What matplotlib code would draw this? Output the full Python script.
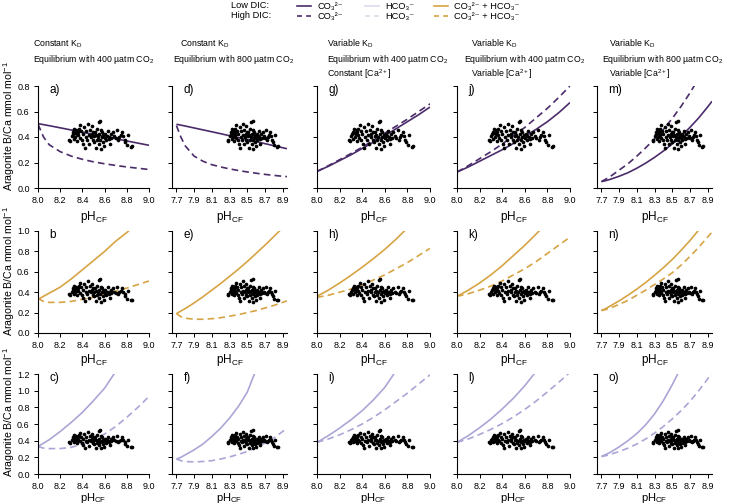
import numpy as np
import matplotlib.pyplot as plt
from matplotlib.lines import Line2D

plt.rcParams['font.family'] = ['Liberation Sans', 'DejaVu Sans']
plt.rcParams['mathtext.fontset'] = 'custom'
plt.rcParams['mathtext.rm'] = 'Liberation Sans'
plt.rcParams['mathtext.it'] = 'Liberation Sans:italic'
plt.rcParams['mathtext.bf'] = 'Liberation Sans:bold'

# coral calcifying fluid data (same in every panel)
ph_cf = [8.280, 8.288, 8.304, 8.312, 8.318, 8.323, 8.326, 8.331, 8.336, 8.342,
         8.347, 8.353, 8.358, 8.363, 8.366, 8.374, 8.379, 8.385, 8.393, 8.401,
         8.406, 8.414, 8.420, 8.428, 8.433, 8.441, 8.449, 8.455, 8.460, 8.466,
         8.474, 8.482, 8.487, 8.492, 8.498, 8.503, 8.509, 8.514, 8.519, 8.525,
         8.530, 8.535, 8.541, 8.546, 8.549, 8.554, 8.560, 8.562, 8.568, 8.570,
         8.573, 8.578, 8.584, 8.589, 8.595, 8.600, 8.608, 8.616, 8.622, 8.630,
         8.638, 8.643, 8.648, 8.654, 8.662, 8.675, 8.689, 8.702, 8.716, 8.724,
         8.734, 8.745, 8.761, 8.769, 8.783, 8.788, 8.804, 8.815, 8.837, 8.850]
bca = [0.379, 0.371, 0.405, 0.421, 0.442, 0.384, 0.465, 0.431, 0.400, 0.452,
       0.426, 0.371, 0.439, 0.413, 0.465, 0.395, 0.492, 0.447, 0.374, 0.426,
       0.348, 0.478, 0.316, 0.400, 0.447, 0.379, 0.505, 0.413, 0.342, 0.458,
       0.400, 0.421, 0.484, 0.374, 0.439, 0.361, 0.405, 0.439, 0.316, 0.413,
       0.374, 0.465, 0.400, 0.515, 0.348, 0.421, 0.525, 0.379, 0.452, 0.308,
       0.400, 0.439, 0.361, 0.413, 0.327, 0.395, 0.426, 0.374, 0.405, 0.447,
       0.400, 0.387, 0.348, 0.421, 0.395, 0.439, 0.405, 0.395, 0.452, 0.379,
       0.400, 0.413, 0.439, 0.405, 0.379, 0.361, 0.337, 0.413, 0.322, 0.327]

# model pH grids
ph_400 = [8.0, 8.05, 8.1, 8.2, 8.3, 8.4, 8.5, 8.6, 8.7, 8.8, 8.9, 9.0]
ph_800 = [7.7, 7.75, 7.8, 7.9, 8.0, 8.1, 8.2, 8.3, 8.4, 8.5, 8.6, 8.7, 8.8, 8.9, 8.95]

# CO3 2- models (low DIC solid, high DIC dashed)
a_low = [0.505, 0.497, 0.489, 0.472, 0.455, 0.438, 0.420, 0.403, 0.386, 0.369, 0.352, 0.335]
a_high = [0.50, 0.40, 0.34, 0.285, 0.25, 0.225, 0.205, 0.19, 0.177, 0.165, 0.155, 0.145]
d_low = [0.500, 0.493, 0.486, 0.471, 0.456, 0.441, 0.426, 0.410, 0.395, 0.380, 0.364, 0.348, 0.332, 0.316, 0.308]
d_high = [0.49, 0.40, 0.33, 0.25, 0.21, 0.183, 0.165, 0.15, 0.137, 0.126, 0.116, 0.107, 0.099, 0.092, 0.089]
g_low = [0.13, 0.15, 0.17, 0.215, 0.26, 0.31, 0.36, 0.41, 0.465, 0.52, 0.575, 0.635]
g_high = [0.13, 0.152, 0.175, 0.222, 0.27, 0.32, 0.375, 0.43, 0.485, 0.54, 0.60, 0.66]
j_low = [0.125, 0.145, 0.165, 0.21, 0.255, 0.30, 0.35, 0.405, 0.46, 0.52, 0.59, 0.67]
j_high = [0.125, 0.15, 0.175, 0.23, 0.285, 0.345, 0.41, 0.475, 0.55, 0.625, 0.71, 0.80]
m_low = [0.05, 0.058, 0.068, 0.092, 0.12, 0.155, 0.195, 0.24, 0.29, 0.345, 0.405, 0.475, 0.55, 0.635, 0.68]
m_high = [0.05, 0.07, 0.09, 0.14, 0.19, 0.25, 0.315, 0.385, 0.46, 0.545, 0.64, 0.745, 0.86]

# CO3 2- + HCO3- models
b_low = [0.33, 0.36, 0.39, 0.45, 0.53, 0.62, 0.71, 0.80, 0.90, 0.985, 1.08]
b_high = [0.34, 0.31, 0.30, 0.30, 0.31, 0.33, 0.35, 0.38, 0.41, 0.44, 0.475, 0.51]
e_low = [0.19, 0.215, 0.24, 0.295, 0.355, 0.42, 0.485, 0.555, 0.625, 0.70, 0.78, 0.86, 0.945, 1.03]
e_high = [0.19, 0.16, 0.145, 0.135, 0.135, 0.14, 0.15, 0.165, 0.18, 0.20, 0.22, 0.245, 0.27, 0.30, 0.315]
h_low = [0.36, 0.39, 0.42, 0.49, 0.565, 0.645, 0.73, 0.82, 0.92, 1.03]
h_high = [0.35, 0.36, 0.37, 0.40, 0.43, 0.47, 0.52, 0.57, 0.63, 0.69, 0.76, 0.83]
k_low = [0.36, 0.39, 0.42, 0.49, 0.57, 0.66, 0.76, 0.86, 0.97, 1.08]
k_high = [0.36, 0.372, 0.385, 0.42, 0.46, 0.51, 0.57, 0.63, 0.70, 0.78, 0.86, 0.94]
n_low = [0.22, 0.24, 0.265, 0.315, 0.37, 0.43, 0.495, 0.565, 0.64, 0.72, 0.81, 0.905, 1.01]
n_high = [0.22, 0.23, 0.245, 0.28, 0.32, 0.37, 0.42, 0.475, 0.53, 0.59, 0.665, 0.75, 0.84, 0.94, 0.99]

# HCO3- models
c_low = [0.33, 0.37, 0.41, 0.51, 0.62, 0.74, 0.88, 1.03, 1.23]
c_high = [0.33, 0.31, 0.305, 0.305, 0.32, 0.36, 0.41, 0.48, 0.57, 0.68, 0.80, 0.93]
f_low = [0.18, 0.20, 0.23, 0.29, 0.36, 0.45, 0.55, 0.67, 0.81, 0.98, 1.25]
f_high = [0.18, 0.16, 0.15, 0.145, 0.15, 0.16, 0.18, 0.205, 0.235, 0.27, 0.32, 0.37, 0.43, 0.51, 0.55]
i_low = [0.38, 0.42, 0.46, 0.55, 0.65, 0.76, 0.89, 1.04, 1.24]
i_high = [0.38, 0.40, 0.42, 0.47, 0.53, 0.60, 0.68, 0.77, 0.87, 0.97, 1.08, 1.19]
l_low = [0.38, 0.42, 0.46, 0.555, 0.66, 0.78, 0.91, 1.06, 1.23]
l_high = [0.38, 0.40, 0.42, 0.475, 0.535, 0.605, 0.685, 0.775, 0.875, 0.985, 1.10, 1.22]
o_low = [0.21, 0.235, 0.26, 0.325, 0.40, 0.485, 0.59, 0.72, 0.88, 1.07, 1.28]
o_high = [0.21, 0.22, 0.235, 0.27, 0.31, 0.36, 0.42, 0.49, 0.57, 0.66, 0.76, 0.87, 1.0, 1.14, 1.21]

col_heads = [
    ["Constant K$_\\mathrm{D}$", "Equilibrium with 400 \u00b5atm CO$_2$"],
    ["Constant K$_\\mathrm{D}$", "Equilibrium with 800 \u00b5atm CO$_2$"],
    ["Variable K$_\\mathrm{D}$", "Equilibrium with 400 \u00b5atm CO$_2$", "Constant [Ca$^{2+}$]"],
    ["Variable K$_\\mathrm{D}$", "Equilibrium with 400 \u00b5atm CO$_2$", "Variable [Ca$^{2+}$]"],
    ["Variable K$_\\mathrm{D}$", "Equilibrium with 800 \u00b5atm CO$_2$", "Variable [Ca$^{2+}$]"],
]

purple = '#4a2c6a'
gold = '#d6a444'
lav = '#aaa6d6'

W, H = 744, 504
fig = plt.figure(figsize=(W / 100, H / 100), dpi=100)

def fx(x):
    return x / W

def fy(y):
    return 1 - y / H

col_left = [38, 172, 317, 457, 597]
col_w = [111, 115, 113, 113, 115]
row_top = [86, 231, 374]
row_h = [102, 102, 100]
row_pad = [2.5, 1.5, 0]
row_xfs = [8.5, 8.5, 8]
row_ymax = [0.8, 1.0, 1.2]
row_color = [purple, gold, lav]

low_rows = [[a_low, d_low, g_low, j_low, m_low],
            [b_low, e_low, h_low, k_low, n_low],
            [c_low, f_low, i_low, l_low, o_low]]
high_rows = [[a_high, d_high, g_high, j_high, m_high],
             [b_high, e_high, h_high, k_high, n_high],
             [c_high, f_high, i_high, l_high, o_high]]
labels = [["a)", "d)", "g)", "j)", "m)"],
          ["b", "e)", "h)", "k)", "n)"],
          ["c)", "f)", "i)", "l)", "o)"]]

for r in range(3):
    for c in range(5):
        ax = fig.add_axes([fx(col_left[c]), fy(row_top[r] + row_h[r]),
                           fx(col_w[c]), row_h[r] / H])
        wide = c in (1, 4)
        ph = ph_800 if wide else ph_400
        low = low_rows[r][c]
        high = high_rows[r][c]
        ax.plot(ph[:len(low)], low, color=row_color[r], lw=1.2, solid_capstyle='butt')
        ax.plot(ph[:len(high)], high, color=row_color[r], lw=1.2, dashes=(4, 2.5))
        ax.scatter(ph_cf, bca, s=7, color='black', linewidths=0, zorder=3)
        if wide:
            ax.set_xlim(7.65, 8.95)
            ax.set_xticks([7.7, 7.9, 8.1, 8.3, 8.5, 8.7, 8.9])
        else:
            ax.set_xlim(8.0, 9.0)
            ax.set_xticks([8.0, 8.2, 8.4, 8.6, 8.8, 9.0])
        ax.set_ylim(0, row_ymax[r])
        ax.set_yticks(np.arange(0, row_ymax[r] + 0.01, 0.2))
        ax.xaxis.set_major_formatter(plt.FormatStrFormatter('%.1f'))
        ax.yaxis.set_major_formatter(plt.FormatStrFormatter('%.1f'))
        for s in ('top', 'right'):
            ax.spines[s].set_visible(False)
        for s in ('left', 'bottom'):
            ax.spines[s].set_linewidth(0.8)
        ax.tick_params(direction='out', length=3, width=0.7, labelsize=6.5, pad=3)
        if c > 0:
            ax.set_yticklabels([])
        ax.set_xlabel("pH$_\\mathrm{CF}$", fontsize=row_xfs[r], labelpad=row_pad[r])
        ax.text(0.1, 0.96, labels[r][c], transform=ax.transAxes, fontsize=8.5,
                va='center', ha='left')
    fig.text(fx(9), fy(row_top[r] + row_h[r] + 3), "Aragonite B/Ca mmol mol$^{-1}$",
             fontsize=7.6, rotation=90, ha='center', va='bottom')

# column headers
head_x = [[33, 33], [180, 173], [327, 327, 327], [471, 464, 471], [609, 602, 609]]
head_y = [44, 59, 74]
for c, lines in enumerate(col_heads):
    for k, txt in enumerate(lines):
        fig.text(fx(head_x[c][k]), fy(head_y[k]), txt, fontsize=6.3, va='center', ha='left')

# legend
fig.text(fx(231), fy(6), "Low DIC:", fontsize=6.7, va='center')
fig.text(fx(231), fy(16), "High DIC:", fontsize=6.7, va='center')
leg_items = [(297, purple, "CO\u2083\u00b2\u207b"), (365, '#dcdaee', "HCO\u2083\u207b"),
             (434, gold, "CO\u2083\u00b2\u207b + HCO\u2083\u207b")]
for x0, colr, txt in leg_items:
    for yy, dash in ((6, None), (16, (3, 2.5))):
        ln = Line2D([fx(x0), fx(x0 + 14)], [fy(yy), fy(yy)], color=colr, lw=1.2,
                    transform=fig.transFigure)
        if dash:
            ln.set_dashes(dash)
        fig.add_artist(ln)
        fig.text(fx(x0 + 20), fy(yy), txt, fontsize=6.7, va='center')

fig.savefig("out.png", dpi=100)
